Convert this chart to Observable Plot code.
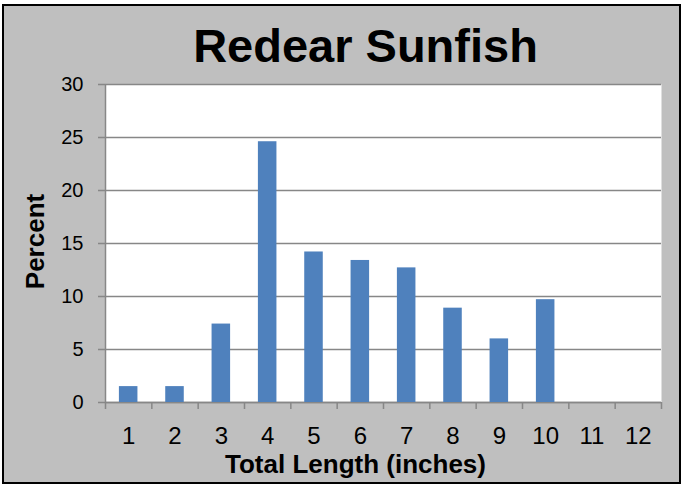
<!DOCTYPE html>
<html>
<head>
<meta charset="utf-8">
<script src="https://cdn.jsdelivr.net/npm/d3@7"></script>
<script src="https://cdn.jsdelivr.net/npm/@observablehq/plot@0.6"></script>
<style>
  html, body { margin: 0; padding: 0; background: #ffffff; }
  #wrap {
    position: absolute; left: 2px; top: 4px;
    width: 675px; height: 476px;
    border: 2px solid #000000;
    background: #bfbfbf;
  }
  #wrap svg { display: block; }
</style>
</head>
<body>
<div id="wrap"></div>
<script>
const titleText = "Redear Sunfish";
const xTitle = "Total Length (inches)";
const yTitle = "Percent";
const lengths = [1, 2, 3, 4, 5, 6, 7, 8, 9, 10, 11, 12];
const percents = [1.5, 1.5, 7.4, 24.6, 14.2, 13.4, 12.7, 8.9, 6.0, 9.7, 0, 0];
const yTicks = [0, 5, 10, 15, 20, 25, 30];
const xTickLabels = ["1", "2", "3", "4", "5", "6", "7", "8", "9", "10", "11", "12"];

const data = lengths.map((len, i) => ({len, pct: percents[i]}));
const boundaries = lengths.map(l => l - 0.5).concat([lengths[lengths.length - 1] + 0.5]);

const gray = "#878787";
const barColor = "#4f81bd";

const chart = Plot.plot({
  width: 675,
  height: 476,
  marginLeft: 101,
  marginRight: 18,
  marginTop: 78,
  marginBottom: 80,
  style: {
    background: "#bfbfbf",
    fontFamily: "'Liberation Sans', Arial, sans-serif",
    color: "#000000",
    overflow: "visible"
  },
  x: {type: "linear", domain: [0.5, 12.5], axis: null},
  y: {domain: [0, 30], axis: null},
  marks: [
    Plot.frame({fill: "#ffffff", stroke: null}),
    Plot.gridY(yTicks, {stroke: gray, strokeOpacity: 1, strokeWidth: 1.5}),
    Plot.ruleX([0.5], {stroke: gray, strokeWidth: 1.5}),
    Plot.ruleY([0], {stroke: gray, strokeWidth: 1.5}),
    Plot.rectY(data, {
      x1: d => d.len - 0.2,
      x2: d => d.len + 0.2,
      y: "pct",
      fill: barColor
    }),
    // y ticks
    Plot.axisY(yTicks, {tickSize: 7, tickFormat: () => "", stroke: gray, strokeWidth: 1.5, label: null}),
    // y tick labels
    Plot.axisY(yTicks, {tickSize: 0, tickPadding: 22, fontSize: 20, fill: "#000000", label: null}),
    // x ticks at category boundaries
    Plot.axisX(boundaries, {tickSize: 7, tickFormat: () => "", stroke: gray, strokeWidth: 1.5, label: null}),
    // x tick labels
    Plot.axisX(lengths, {tickSize: 0, tickPadding: 24, fontSize: 24, fill: "#000000", tickFormat: (d) => xTickLabels[lengths.indexOf(d)], label: null}),
    // Title
    Plot.text([titleText], {
      frameAnchor: "top", text: d => d, lineAnchor: "bottom", textAnchor: "middle",
      dx: -18, dy: -23, fontSize: 47, fontWeight: "bold", fill: "#000000"
    }),
    // X title
    Plot.text([xTitle], {
      frameAnchor: "bottom", text: d => d, lineAnchor: "bottom", textAnchor: "middle",
      dx: -28, dy: 70, fontSize: 26, fontWeight: "bold", fill: "#000000"
    }),
    // Y title
    Plot.text([yTitle], {
      frameAnchor: "left", text: d => d, lineAnchor: "middle", textAnchor: "middle", rotate: -90,
      dx: -70, dy: -2, fontSize: 26, fontWeight: "bold", fill: "#000000"
    })
  ]
});
document.getElementById("wrap").appendChild(chart);
</script>
</body>
</html>
